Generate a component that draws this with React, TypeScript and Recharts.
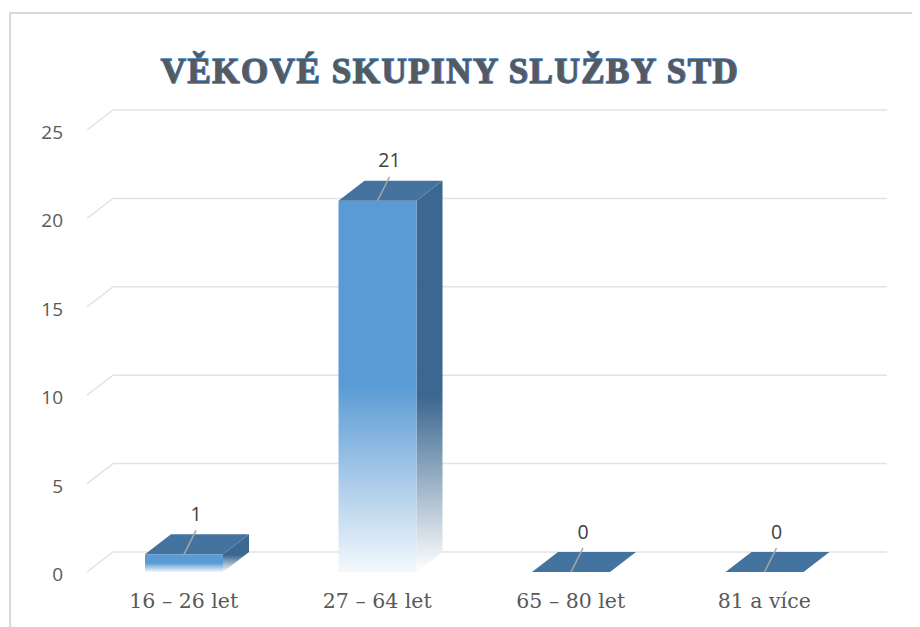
import React from 'react';
import { BarChart, Bar, XAxis, YAxis, CartesianGrid, LabelList } from 'recharts';

const categories = ['16 – 26 let', '27 – 64 let', '65 – 80 let', '81 a více'];
const counts = [1, 21, 0, 0];
const yTicks = [0, 5, 10, 15, 20, 25];
const title = 'VĚKOVÉ SKUPINY SLUŽBY STD';

const data = categories.map((name, i) => ({ name, value: counts[i] }));

const DX = 26;
const DY = -20;
const FRONT = '#5B9BD5';
const SIDE = '#3B6790';
const TOP = '#44739F';

const Box3D = (props: any) => {
  const { x, y, width: w, height: h, index } = props;
  const gid = `fg${index}`;
  const sid = `sg${index}`;
  return (
    <g>
      <defs>
        <linearGradient id={gid} x1="0" y1="0" x2="0" y2="1">
          <stop offset="0" stopColor={FRONT} />
          <stop offset="0.5" stopColor={FRONT} />
          <stop offset="1" stopColor="#F4F8FC" />
        </linearGradient>
        <linearGradient id={sid} x1="0" y1="0" x2="0" y2="1">
          <stop offset="0" stopColor={SIDE} />
          <stop offset="0.55" stopColor={SIDE} />
          <stop offset="1" stopColor="#FFFFFF" />
        </linearGradient>
      </defs>
      {h > 0 && (
        <polygon
          points={`${x + w},${y} ${x + w + DX},${y + DY} ${x + w + DX},${y + h + DY} ${x + w},${y + h}`}
          fill={`url(#${sid})`}
        />
      )}
      {h > 0 && <rect x={x} y={y} width={w} height={h} fill={`url(#${gid})`} />}
      <polygon
        points={`${x},${y} ${x + DX},${y + DY} ${x + w + DX},${y + DY} ${x + w},${y}`}
        fill={TOP}
      />
    </g>
  );
};

const ValueLabel = (props: any) => {
  const { x, y, width, value } = props;
  const cx = x + width / 2;
  const lx = cx + 12;
  return (
    <g>
      <line x1={cx} y1={y} x2={lx} y2={y - 24} stroke="#A6A6A6" strokeWidth={1.5} />
      <text
        x={lx}
        y={y - 41}
        textAnchor="middle"
        dominantBaseline="central"
        fontFamily="'Open Sans', 'Noto Sans', sans-serif"
        fontSize={19.5}
        fill="#404040"
      >
        {value}
      </text>
    </g>
  );
};

const GridLine = (props: any) => {
  const { x1, y1, x2 } = props;
  return (
    <path
      d={`M${x1},${y1} L${x1 + DX},${y1 + DY} L${x2 + DX},${y1 + DY}`}
      fill="none"
      stroke="#E3E3E3"
      strokeWidth={1.5}
    />
  );
};

const YTick = (props: any) => {
  const { y, payload } = props;
  return (
    <text
      x={55}
      y={y + 2}
      textAnchor="end"
      dominantBaseline="central"
      fontFamily="'Open Sans', 'Noto Sans', sans-serif"
      fontSize={19}
      fill="#595959"
    >
      {payload.value}
    </text>
  );
};

const XTick = (props: any) => {
  const { x, payload } = props;
  return (
    <text
      x={x}
      y={600}
      textAnchor="middle"
      fontFamily="'DejaVu Serif', serif"
      fontSize={20.5}
      fill="#595959"
    >
      {payload.value}
    </text>
  );
};

export default function App() {
  return (
    <div style={{ position: 'relative', width: 912, height: 619, overflow: 'hidden', background: '#fff' }}>
      <div
        style={{
          position: 'absolute',
          left: 1,
          top: 4,
          width: 1000,
          height: 1000,
          border: '2px solid #D9D9D9',
          boxSizing: 'border-box',
        }}
      />
      <div
        style={{
          position: 'absolute',
          left: 0,
          top: 44,
          width: 884,
          textAlign: 'center',
          fontFamily: "'Liberation Serif', serif",
          fontWeight: 'bold',
          fontSize: 35,
          lineHeight: '40px',
          color: '#595959',
          WebkitTextStroke: '1.5px #3A7BBF',
          paintOrder: 'stroke fill',
          letterSpacing: 1.5,
        }}
      >
        {title}
      </div>
      <div style={{ position: 'absolute', left: 0, top: 0 }}>
        <BarChart
          width={912}
          height={619}
          data={data}
          margin={{ top: 122, right: 59, bottom: 25, left: 19 }}
        >
          <CartesianGrid vertical={false} horizontal={GridLine as any} />
          <YAxis
            domain={[0, 25]}
            ticks={yTicks}
            width={60}
            axisLine={false}
            tickLine={false}
            tick={YTick as any}
            interval={0}
          />
          <XAxis dataKey="name" axisLine={false} tickLine={false} height={30} tick={XTick as any} interval={0} />
          <Bar dataKey="value" barSize={78} shape={Box3D as any} isAnimationActive={false}>
            <LabelList dataKey="value" content={ValueLabel as any} />
          </Bar>
        </BarChart>
      </div>
    </div>
  );
}
